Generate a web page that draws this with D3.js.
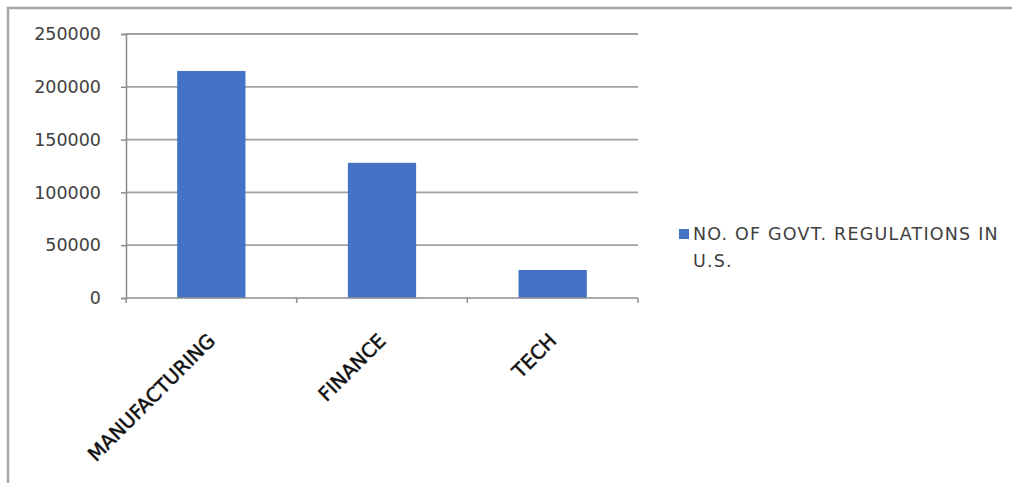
<!DOCTYPE html>
<html>
<head>
<meta charset="utf-8">
<script src="https://cdn.jsdelivr.net/npm/d3@7"></script>
<style>
  body { margin: 0; background: #fff; }
  svg { display: block; }
</style>
</head>
<body>
<div id="chart"></div>
<script>
var categories = ['MANUFACTURING', 'FINANCE', 'TECH'];
var regulations = [215000, 128000, 26500];
var yTicks = [0, 50000, 100000, 150000, 200000, 250000];
var legendLines = ['NO. OF GOVT. REGULATIONS IN', 'U.S.'];

var width = 1018, height = 483;
var plot = { left: 126, right: 638, top: 34, bottom: 298 };

var svg = d3.select('#chart')
	.append('svg')
	.attr('width', width)
	.attr('height', height);

// chart frame: only the top and left edges show in the picture
svg.append('path')
	.attr('d', 'M8,' + height + 'V8H1012')
	.attr('fill', 'none')
	.attr('stroke', '#a6a6a6')
	.attr('stroke-width', 2.5);

var x = d3.scaleBand()
	.domain(categories)
	.range([plot.left, plot.right])
	.paddingInner(0.6)
	.paddingOuter(0.3);

var xTicks = d3.scaleBand()
	.domain(categories)
	.range([plot.left, plot.right]);

var y = d3.scaleLinear()
	.domain([0, 250000])
	.range([plot.bottom, plot.top]);

// gridlines
svg.append('g')
	.selectAll('line')
	.data(yTicks.slice(1))
	.enter()
	.append('line')
	.attr('x1', plot.left)
	.attr('x2', plot.right)
	.attr('y1', function (d) { return y(d); })
	.attr('y2', function (d) { return y(d); })
	.attr('stroke', '#a0a0a0')
	.attr('stroke-width', 1.8);

// y axis
var yAxis = svg.append('g')
	.attr('transform', 'translate(' + plot.left + ',0)')
	.call(d3.axisLeft(y).tickValues(yTicks).tickSize(5).tickPadding(20).tickFormat(d3.format('d')));
yAxis.select('.domain').attr('stroke', '#8c8c8c').attr('stroke-width', 1.5);
yAxis.selectAll('.tick line').attr('stroke', '#8c8c8c').attr('stroke-width', 1.5);
yAxis.selectAll('.tick text')
	.attr('fill', '#404040')
	.style('font-family', '"DejaVu Sans", sans-serif')
	.style('font-size', '17.5px');

// bars
svg.append('g')
	.selectAll('rect')
	.data(categories)
	.enter()
	.append('rect')
	.attr('x', function (d) { return x(d); })
	.attr('y', function (d, i) { return y(regulations[i]); })
	.attr('width', x.bandwidth())
	.attr('height', function (d, i) { return y(0) - y(regulations[i]); })
	.attr('fill', '#4472c4');

// x axis
var xAxisLine = svg.append('g');
xAxisLine.append('line')
	.attr('x1', plot.left)
	.attr('x2', plot.right)
	.attr('y1', plot.bottom)
	.attr('y2', plot.bottom)
	.attr('stroke', '#8c8c8c')
	.attr('stroke-width', 1.5);
xAxisLine.selectAll('line.tick')
	.data(categories.concat(['end']))
	.enter()
	.append('line')
	.attr('class', 'tick')
	.attr('x1', function (d) { return d === 'end' ? plot.right : xTicks(d); })
	.attr('x2', function (d) { return d === 'end' ? plot.right : xTicks(d); })
	.attr('y1', plot.bottom)
	.attr('y2', plot.bottom + 5)
	.attr('stroke', '#8c8c8c')
	.attr('stroke-width', 1.5);

svg.append('g')
	.selectAll('text')
	.data(categories)
	.enter()
	.append('text')
	.attr('transform', function (d) {
		return 'translate(' + (xTicks(d) + xTicks.bandwidth() / 2 + 5) + ',' + 342 + ') rotate(-45)';
	})
	.attr('text-anchor', 'end')
	.attr('fill', '#111')
	.attr('stroke', '#111')
	.attr('stroke-width', 0.5)
	.style('font-family', '"DejaVu Sans", sans-serif')
	.style('font-size', '19.5px')
	.text(function (d) { return d; });

// legend
var legend = svg.append('g').attr('transform', 'translate(679,229)');
legend.append('rect')
	.attr('width', 10)
	.attr('height', 10)
	.attr('fill', '#4472c4');
legend.selectAll('text')
	.data(legendLines)
	.enter()
	.append('text')
	.attr('x', 14)
	.attr('y', function (d, i) { return 11 + i * 27; })
	.attr('fill', '#404040')
	.style('font-family', '"DejaVu Sans", sans-serif')
	.style('font-size', '17.5px')
	.style('letter-spacing', '1.2px')
	.text(function (d) { return d; });
</script>
</body>
</html>
